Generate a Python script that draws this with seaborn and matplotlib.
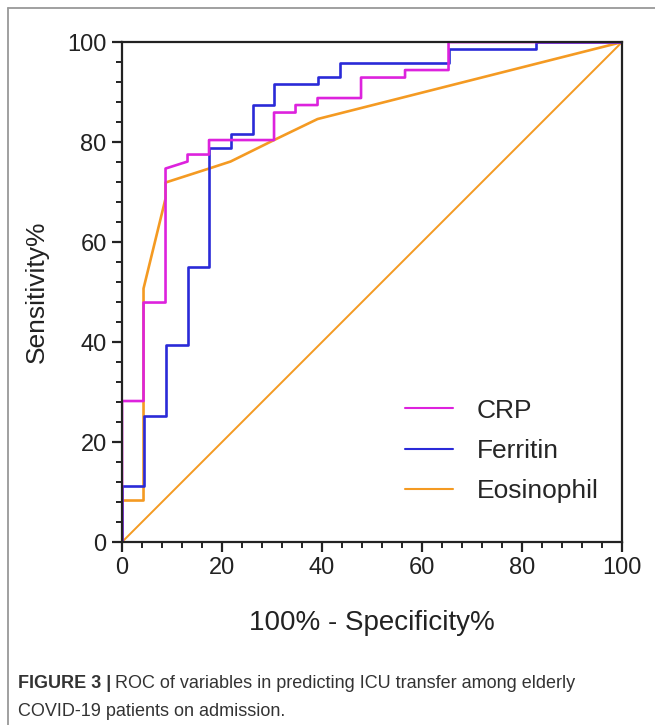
import pandas as pd
import seaborn as sns
import matplotlib.pyplot as plt
from matplotlib.lines import Line2D
from matplotlib.ticker import MultipleLocator

# ROC curve vertices (100% - specificity, sensitivity)
crp_x = [0, 0, 4.3, 4.3, 8.7, 8.7, 13.1, 13.1, 17.4, 17.4, 30.4, 30.4, 34.7, 34.7,
         39.1, 39.1, 47.8, 47.8, 56.6, 56.6, 65.3, 65.3, 100]
crp_y = [0, 28.2, 28.2, 47.9, 47.9, 74.7, 76.1, 77.5, 77.5, 80.4, 80.4, 85.9, 85.9, 87.4,
         87.4, 88.8, 88.8, 92.9, 92.9, 94.4, 94.4, 100, 100]

fer_x = [0, 0, 4.3, 4.3, 8.7, 8.7, 13.1, 13.1, 17.4, 17.4, 21.7, 21.7, 26.1, 26.1,
         30.4, 30.4, 39.1, 39.1, 43.6, 43.6, 65.3, 65.3, 82.7, 82.7, 100]
fer_y = [0, 11.2, 11.2, 25.3, 25.3, 39.5, 39.5, 55.0, 55.0, 78.9, 78.9, 81.7, 81.7, 87.4,
         87.4, 91.7, 91.7, 93.0, 93.0, 95.9, 95.9, 98.7, 98.7, 100, 100]

eos_x = [0, 0, 4.3, 4.3, 8.7, 8.7, 17.4, 21.7, 30.4, 39.1, 100]
eos_y = [0, 8.3, 8.3, 50.7, 68.7, 71.9, 74.7, 76.1, 80.4, 84.6, 100]

ref_x = [0, 100]
ref_y = [0, 100]

names = ["CRP", "Ferritin", "Eosinophil"]
colors = {"CRP": "#dd22dd", "Ferritin": "#2a2ad8", "Eosinophil": "#f49a22"}

frames = []
for name, xs, ys in [("CRP", crp_x, crp_y), ("Ferritin", fer_x, fer_y),
                     ("Eosinophil", eos_x, eos_y)]:
    d = pd.DataFrame({"fpr": xs, "tpr": ys})
    d["marker"] = name
    frames.append(d)
df = pd.concat(frames, ignore_index=True)

sns.set_style("ticks")
plt.rcParams["font.family"] = ["Liberation Sans", "DejaVu Sans"]

fig = plt.figure(figsize=(6.55, 7.25), dpi=100)
ax = fig.add_axes([0.1863, 0.2524, 0.7634, 0.6896])

sns.lineplot(x=ref_x, y=ref_y, color=colors["Eosinophil"], lw=1.4, ax=ax)
for name in names[::-1]:
    sub = df[df["marker"] == name]
    sns.lineplot(data=sub, x="fpr", y="tpr", sort=False, estimator=None,
                 color=colors[name], lw=1.9, ax=ax)

ax.set_xlim(0, 100)
ax.set_ylim(0, 100)
ax.xaxis.set_major_locator(MultipleLocator(20))
ax.yaxis.set_major_locator(MultipleLocator(20))
ax.xaxis.set_minor_locator(MultipleLocator(4))
ax.yaxis.set_minor_locator(MultipleLocator(4))
ax.tick_params(which="major", length=7, width=1.6, labelsize=17, colors="#222222", pad=4)
ax.tick_params(which="minor", length=4, width=1.4, colors="#222222")
for s in ax.spines.values():
    s.set_linewidth(1.6)
    s.set_color("#222222")

ax.set_xlabel("100% - Specificity%", fontsize=20, labelpad=22, color="#222222")
ax.set_ylabel("Sensitivity%", fontsize=19, labelpad=13, color="#222222")

handles = [Line2D([], [], color=colors[n], lw=1.5) for n in names]
ax.legend(handles, names, loc="lower right", bbox_to_anchor=(1.0, 0.03), frameon=False,
          fontsize=19, handlelength=1.8, handletextpad=0.9, labelspacing=0.62)

# figure frame (left and top) and caption
fig.add_artist(Line2D([8 / 655, 8 / 655], [0, 1 - 8 / 725], color="#999999", lw=1.3))
fig.add_artist(Line2D([8 / 655, 1], [1 - 8 / 725, 1 - 8 / 725], color="#999999", lw=1.3))

t1 = fig.text(18 / 655, 1 - 683 / 725, "FIGURE 3 |", fontsize=13, fontweight="bold",
              color="#333333", va="center")
fig.canvas.draw()
bb = t1.get_window_extent()
fig.text(bb.x1 / fig.bbox.width + 0.006, 1 - 683 / 725,
         "ROC of variables in predicting ICU transfer among elderly",
         fontsize=13, color="#333333", va="center")
fig.text(18 / 655, 1 - 711 / 725, "COVID-19 patients on admission.", fontsize=13,
         color="#333333", va="center")

fig.savefig("out.png", dpi=100)
